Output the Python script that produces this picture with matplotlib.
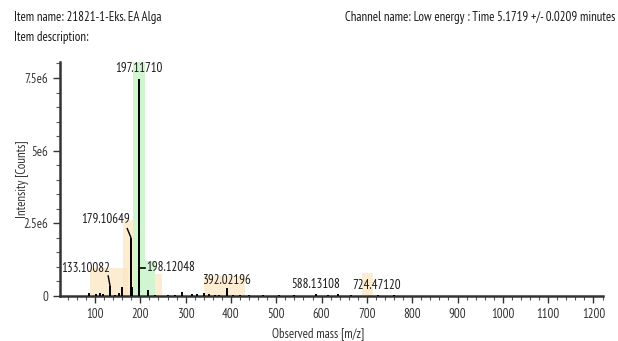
import matplotlib
matplotlib.use("Agg")
import matplotlib.pyplot as plt
from matplotlib import font_manager
from matplotlib.ticker import MultipleLocator, FixedLocator, FixedFormatter

# ---- data ----
peak_mz = [87.6, 101.5, 111, 117, 133.10082, 144, 154, 160, 179.10649, 181,
           197.11710, 198.12048, 217, 232, 261, 277, 292, 313, 325, 341, 352,
           365, 374, 392.02196, 405, 420, 440, 470, 505, 540, 588.13108,
           615, 637, 665, 724.47120, 760]
peak_int = [0.10e6, 0.08e6, 0.10e6, 0.08e6, 0.33e6, 0.05e6, 0.10e6, 0.30e6, 1.98e6, 0.30e6,
            7.45e6, 0.97e6, 0.20e6, 0.04e6, 0.04e6, 0.04e6, 0.13e6, 0.06e6, 0.06e6, 0.12e6, 0.06e6,
            0.05e6, 0.05e6, 0.27e6, 0.05e6, 0.05e6, 0.03e6, 0.03e6, 0.03e6, 0.03e6, 0.07e6,
            0.03e6, 0.06e6, 0.03e6, 0.04e6, 0.02e6]

label_text = ["197.11710", "179.10649", "133.10082", "198.12048",
              "392.02196", "588.13108", "724.47120"]
label_mz = [196.0, 124.0, 80.0, 212.0, 390.0, 587.0, 722.0]
label_y = [7.81e6, 2.63e6, 0.93e6, 0.97e6, 0.55e6, 0.41e6, 0.35e6]
label_ha = ["center", "center", "center", "left", "center", "center", "center"]

orange_start = [89, 162, 233, 341, 690]
orange_end = [173, 184, 248, 431, 714]
orange_top = [0.95e6, 2.6e6, 0.75e6, 0.7e6, 0.8e6]
green_start = [184, 210]
green_end = [210, 233]
green_top = [8.05e6, 1.2e6]

x_ticks = [100, 200, 300, 400, 500, 600, 700, 800, 900, 1000, 1100, 1200]
y_ticks = [0, 2.5e6, 5e6, 7.5e6]
y_tick_labels = ["0", "2.5e6", "5e6", "7.5e6"]

title_left = "Item name: 21821-1-Eks. EA Alga"

# ---- font: a narrow sans with a regular face, sized to the reference text width ----
prefs = ["Open Sans Condensed", "Roboto Condensed", "Fira Sans Condensed",
         "Fira Sans Extra Condensed", "Noto Sans Condensed", "PT Sans Narrow",
         "Archivo Narrow", "Encode Sans Condensed", "IBM Plex Sans Condensed",
         "Asap Condensed", "Barlow Semi Condensed", "Ubuntu Condensed",
         "Source Sans 3", "Source Sans Pro"]
regular = set()
for f in font_manager.fontManager.ttflist:
    if f.style == "normal" and f.weight in (400, "normal", "regular", "book"):
        regular.add(f.name)
cands = [p for p in prefs if p in regular] or ["DejaVu Sans"]

fig = plt.figure(figsize=(6.18, 3.41), dpi=100)
renderer = fig.canvas.get_renderer()
best, best_err = None, None
for fam in cands:
    t = fig.text(0, 0, title_left, fontsize=10, family=[fam, "DejaVu Sans"], weight="normal")
    w = t.get_window_extent(renderer=renderer).width
    t.remove()
    err = abs(w - 160.0)
    if best is None or err < best_err:
        best, best_err, best_w = fam, err, w
FONT = best
plt.rcParams['font.family'] = [FONT, 'DejaVu Sans']
plt.rcParams['font.weight'] = 'normal'
FS = 10.0 * 148.0 / best_w
FAM = [FONT, "DejaVu Sans"]

ax = fig.add_axes([60 / 618, 45 / 341, 543 / 618, 234 / 341])

for s, e, t in zip(orange_start, orange_end, orange_top):
    ax.fill_between([s, e], 0, t, color="#fbe6c4", alpha=0.75, lw=0, zorder=1)
for s, e, t in zip(green_start, green_end, green_top):
    ax.fill_between([s, e], 0, t, color="#c9f3c9", alpha=0.85, lw=0, zorder=1)

ax.vlines(peak_mz, 0, peak_int, color="black", lw=1.4, zorder=3)

for txt, xm, ym, ha in zip(label_text, label_mz, label_y, label_ha):
    ax.text(xm, ym, txt, ha=ha, va="center", fontsize=FS, color="#1a1a1a", zorder=4,
            family=FAM, weight="normal")

ax.plot([171, 179], [2.32e6, 2.02e6], color="black", lw=1.0, zorder=4)
ax.plot([129, 133], [0.69e6, 0.36e6], color="black", lw=1.0, zorder=4)
ax.plot([199.5, 210.5], [0.97e6, 0.97e6], color="black", lw=1.2, zorder=4)

ax.set_xlim(22.7, 1221)
ax.set_ylim(0, 8.05e6)

ax.xaxis.set_major_locator(FixedLocator(x_ticks))
ax.xaxis.set_minor_locator(MultipleLocator(20))
ax.yaxis.set_major_locator(FixedLocator(y_ticks))
ax.yaxis.set_major_formatter(FixedFormatter(y_tick_labels))
ax.yaxis.set_minor_locator(MultipleLocator(0.5e6))

for side in ["top", "right"]:
    ax.spines[side].set_visible(False)
for side in ["left", "bottom"]:
    ax.spines[side].set_linewidth(1.8)
    ax.spines[side].set_color("#333333")

ax.tick_params(axis="both", which="major", length=5, width=1.0, color="#333333",
               labelsize=FS, labelcolor="#333333", direction="out")
ax.tick_params(axis="both", which="minor", length=3, width=0.8, color="#555555", direction="out")
for lab in ax.get_xticklabels() + ax.get_yticklabels():
    lab.set_family(FAM)
    lab.set_weight("normal")

ax.set_xlabel("Observed mass [m/z]", fontsize=FS, color="#333333", va="center",
              family=FAM, weight="normal")
ax.xaxis.set_label_coords(0.475, -38 / 234)
ax.set_ylabel("Intensity [Counts]", fontsize=FS, color="#333333", va="center",
              family=FAM, weight="normal")
ax.yaxis.set_label_coords(-37 / 543, 0.5)

for x, y, s, ha in [(14, 17, title_left, "left"), (14, 37, "Item description:", "left"),
                    (615, 17, "Channel name: Low energy : Time 5.1719 +/- 0.0209 minutes", "right")]:
    fig.text(x / 618, 1 - y / 341, s, fontsize=FS, color="#1a1a1a", ha=ha, va="center",
             family=FAM, weight="normal")

fig.savefig("out.png", dpi=100, facecolor="white")
